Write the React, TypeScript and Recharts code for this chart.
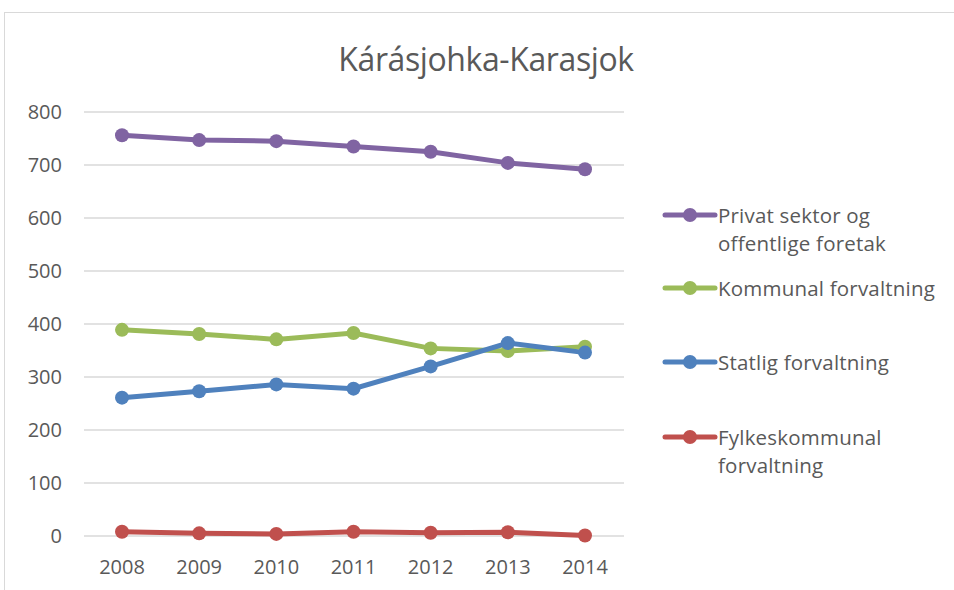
import { LineChart, Line, XAxis, YAxis, CartesianGrid } from 'recharts'

const YEARS = ['2008', '2009', '2010', '2011', '2012', '2013', '2014']
const PRIVAT = [756, 747, 745, 735, 725, 704, 692]
const KOMMUNAL = [389, 381, 371, 383, 354, 349, 357]
const STATLIG = [261, 273, 286, 278, 320, 364, 346]
const FYLKES = [8, 5, 4, 8, 6, 7, 1]
const Y_TICKS = [0, 100, 200, 300, 400, 500, 600, 700, 800]

const SERIES = [
  { key: 'privat', name: 'Privat sektor og offentlige foretak', color: '#8064A2', values: PRIVAT },
  { key: 'kommunal', name: 'Kommunal forvaltning', color: '#9BBB59', values: KOMMUNAL },
  { key: 'statlig', name: 'Statlig forvaltning', color: '#4F81BD', values: STATLIG },
  { key: 'fylkes', name: 'Fylkeskommunal forvaltning', color: '#C0504D', values: FYLKES },
]

const data = YEARS.map((year, i) => {
  const row: Record<string, string | number> = { year }
  for (const s of SERIES) row[s.key] = s.values[i]
  return row
})

const FONT = '"Open Sans", "Liberation Sans", sans-serif'
const TEXT = '#595959'

// legend entries are spaced like the Excel legend (first-line offsets)
const LEGEND_TOPS = [0, 73, 147, 222]

function ChartLegend() {
  return (
    <div style={{ position: 'absolute', left: 662, top: 201, width: 290, height: 300, fontFamily: FONT }}>
      {SERIES.map((s, i) => (
        <div key={s.key} style={{ position: 'absolute', left: 0, top: LEGEND_TOPS[i], display: 'flex', alignItems: 'flex-start' }}>
          <svg width={56} height={28} style={{ flex: 'none' }}>
            <line x1={3} y1={14} x2={53} y2={14} stroke={s.color} strokeWidth={5} strokeLinecap="round" />
            <circle cx={28} cy={14} r={7} fill={s.color} />
          </svg>
          <span style={{ width: 226, fontSize: 20.5, lineHeight: '28px', color: TEXT, letterSpacing: 0.2 }}>{s.name}</span>
        </div>
      ))}
    </div>
  )
}

export default function App() {
  return (
    <div style={{ position: 'fixed', left: 0, top: 0, width: 954, height: 590, overflow: 'hidden', background: '#fff' }}>
      <div style={{ position: 'absolute', left: 4, top: 12, width: 1000, height: 700, border: '1px solid #d9d9d9' }} />
      <div style={{ position: 'absolute', left: 0, top: 37, width: 972, textAlign: 'center', fontFamily: FONT, fontSize: 32, lineHeight: '44px', color: TEXT, letterSpacing: -0.4 }}>
        Kárásjohka-Karasjok
      </div>
      <div style={{ position: 'absolute', left: 0, top: 0 }}>
        <LineChart width={954} height={590} data={data} margin={{ top: 112, right: 330, left: 0, bottom: 14 }}>
          <CartesianGrid vertical={false} stroke="#d9d9d9" strokeWidth={1.5} />
          <XAxis
            dataKey="year"
            axisLine={false}
            tickLine={false}
            tickSize={0}
            tickMargin={24}
            height={40}
            padding={{ left: 38, right: 39 }}
            tick={{ fontSize: 20, fill: TEXT, fontFamily: FONT }}
          />
          <YAxis
            domain={[0, 800]}
            ticks={Y_TICKS}
            width={84}
            axisLine={false}
            tickLine={false}
            tickSize={0}
            tickMargin={22}
            tick={{ fontSize: 20, fill: TEXT, fontFamily: FONT }}
          />
          {SERIES.map(s => (
            <Line
              key={s.key}
              dataKey={s.key}
              name={s.name}
              stroke={s.color}
              strokeWidth={5}
              dot={{ r: 7, fill: s.color, stroke: s.color, strokeWidth: 0 }}
              activeDot={false}
              isAnimationActive={false}
            />
          ))}
        </LineChart>
      </div>
      <ChartLegend />
    </div>
  )
}
